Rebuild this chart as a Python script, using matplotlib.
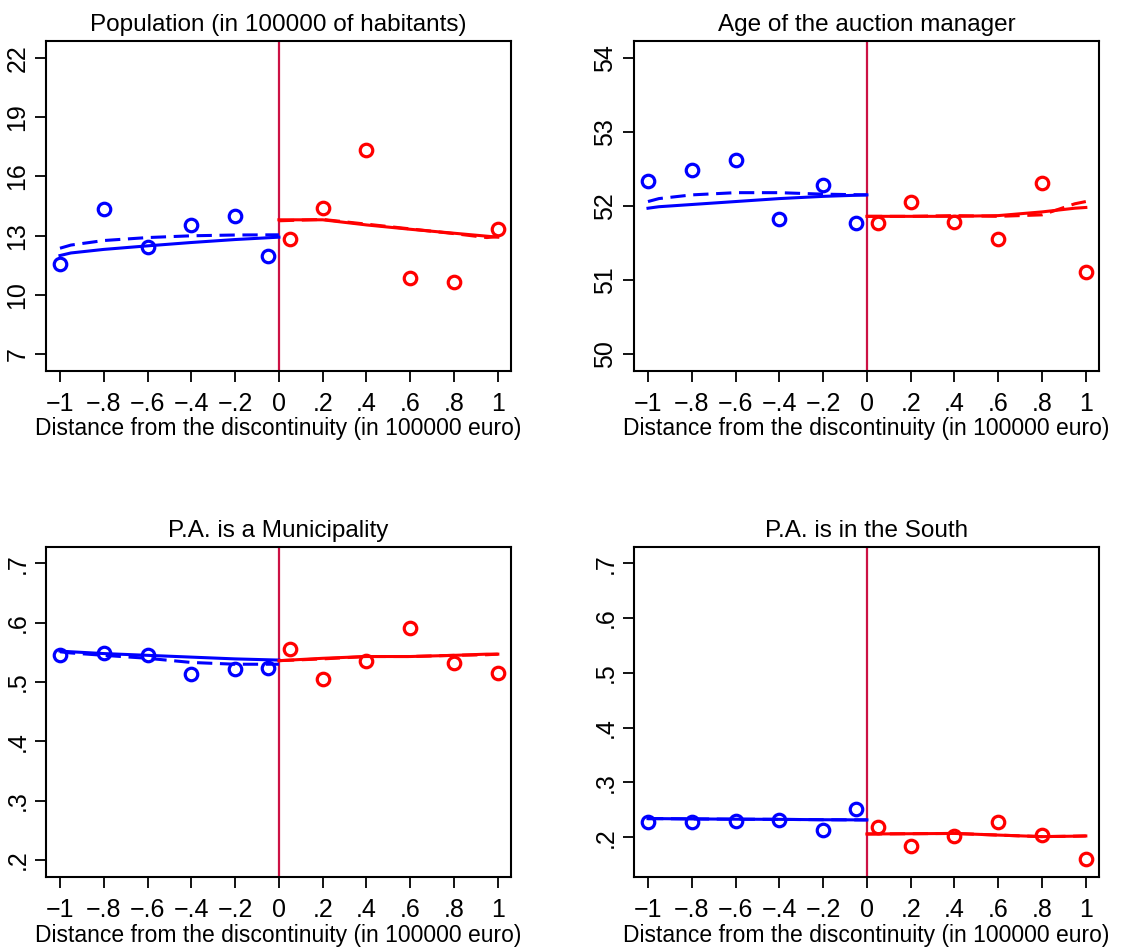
import matplotlib
matplotlib.use("Agg")
import matplotlib.pyplot as plt

plt.rcParams['font.family'] = ['Liberation Sans', 'DejaVu Sans']

# bin centres (distance from the discontinuity)
x_left = [-1, -0.8, -0.6, -0.4, -0.2, -0.05]
x_right = [0.05, 0.2, 0.4, 0.6, 0.8, 1.0]
# grid of the fitted curves
fit_left = [-1, -0.95, -0.8, -0.6, -0.4, -0.2, 0]
fit_right = [0, 0.2, 0.4, 0.6, 0.8, 0.95, 1.0]

# Population (in 100000 of habitants)
pop_left = [11.55, 14.34, 12.41, 13.54, 14.0, 11.97]
pop_right = [12.82, 14.41, 17.33, 10.84, 10.67, 13.32]
pop_fit_l = [11.99, 12.12, 12.3, 12.48, 12.65, 12.8, 12.92]
pop_dash_l = [12.36, 12.52, 12.75, 12.9, 12.99, 13.03, 13.04]
pop_fit_r = [13.8, 13.8, 13.54, 13.32, 13.12, 12.97, 12.92]
pop_dash_r = [13.75, 13.82, 13.58, 13.34, 13.1, 12.9, 12.95]

# Age of the auction manager
age_left = [52.34, 52.48, 52.62, 51.83, 52.28, 51.77]
age_right = [51.77, 52.06, 51.78, 51.55, 52.31, 51.11]
age_fit_l = [51.97, 51.99, 52.02, 52.06, 52.1, 52.13, 52.15]
age_dash_l = [52.06, 52.1, 52.15, 52.18, 52.18, 52.16, 52.15]
age_fit_r = [51.86, 51.86, 51.86, 51.87, 51.92, 51.97, 51.98]
age_dash_r = [51.86, 51.86, 51.87, 51.86, 51.88, 52.03, 52.06]

# P.A. is a Municipality
mun_left = [0.5455, 0.5494, 0.5455, 0.5135, 0.5213, 0.523]
mun_right = [0.5556, 0.505, 0.536, 0.5904, 0.5315, 0.5157]
mun_fit_l = [0.5522, 0.551, 0.548, 0.545, 0.542, 0.539, 0.537]
mun_dash_l = [0.551, 0.549, 0.545, 0.54, 0.533, 0.530, 0.530]
mun_fit_r = [0.536, 0.540, 0.543, 0.543, 0.545, 0.547, 0.547]
mun_dash_r = [0.536, 0.539, 0.543, 0.543, 0.545, 0.546, 0.547]

# P.A. is in the South
south_left = [0.2287, 0.2287, 0.2299, 0.2317, 0.2134, 0.2512]
south_right = [0.2195, 0.1848, 0.2024, 0.2274, 0.2043, 0.1598]
south_fit_l = [0.234, 0.234, 0.2335, 0.233, 0.2327, 0.232, 0.2317]
south_fit_r = [0.206, 0.2065, 0.207, 0.204, 0.2012, 0.202, 0.2024]

panels = [
    ("Population (in 100000 of habitants)", pop_left, pop_right,
     pop_fit_l, pop_dash_l, pop_fit_r, pop_dash_r,
     [7, 10, 13, 16, 19, 22], ["7", "10", "13", "16", "19", "22"], (6.14, 22.86)),
    ("Age of the auction manager", age_left, age_right,
     age_fit_l, age_dash_l, age_fit_r, age_dash_r,
     [50, 51, 52, 53, 54], ["50", "51", "52", "53", "54"], (49.77, 54.23)),
    ("P.A. is a Municipality", mun_left, mun_right,
     mun_fit_l, mun_dash_l, mun_fit_r, mun_dash_r,
     [.2, .3, .4, .5, .6, .7], [".2", ".3", ".4", ".5", ".6", ".7"], (0.171, 0.728)),
    ("P.A. is in the South", south_left, south_right,
     south_fit_l, south_fit_l, south_fit_r, south_fit_r,
     [.2, .3, .4, .5, .6, .7], [".2", ".3", ".4", ".5", ".6", ".7"], (0.127, 0.730)),
]

xticks = [-1, -0.8, -0.6, -0.4, -0.2, 0, 0.2, 0.4, 0.6, 0.8, 1]
xlabels = ["\u22121", "\u2212.8", "\u2212.6", "\u2212.4", "\u2212.2", "0",
           ".2", ".4", ".6", ".8", "1"]

fig = plt.figure(figsize=(11.38, 9.51), dpi=100)
positions = [
    [0.0404, 0.6099, 0.4086, 0.347],
    [0.5571, 0.6099, 0.4086, 0.347],
    [0.0404, 0.0775, 0.4086, 0.3476],
    [0.5571, 0.0775, 0.4086, 0.3476],
]

for pos, p in zip(positions, panels):
    title, yl, yr, fl, dl, fr, dr, yt, ytl, ylim = p
    ax = fig.add_axes(pos)
    ax.axvline(0, color='#cc1144', lw=1.6, zorder=1)
    ax.plot(fit_left, dl, color='blue', lw=2.2, ls=(0, (5, 2.5)))
    ax.plot(fit_left, fl, color='blue', lw=2.2)
    ax.plot(fit_right, dr, color='red', lw=2.2, ls=(0, (5, 2.5)))
    ax.plot(fit_right, fr, color='red', lw=2.2)
    ax.plot(x_left, yl, 'o', ms=9, mfc='none', mec='blue', mew=2.3)
    ax.plot(x_right, yr, 'o', ms=9, mfc='none', mec='red', mew=2.3)
    ax.set_xlim(-1.064, 1.06)
    ax.set_ylim(*ylim)
    ax.set_xticks(xticks)
    ax.set_xticklabels(xlabels)
    ax.set_yticks(yt)
    ax.set_yticklabels(ytl, rotation=90, va='center')
    ax.tick_params(labelsize=18, length=8, width=1.3, direction='out', pad=4)
    ax.tick_params(axis='x', pad=7)
    for s in ax.spines.values():
        s.set_linewidth(1.5)
    ax.set_title(title, fontsize=17.5, pad=7)
    ax.set_xlabel("Distance from the discontinuity (in 100000 euro)", fontsize=16.5, labelpad=1)

fig.savefig("out.png", dpi=100)
